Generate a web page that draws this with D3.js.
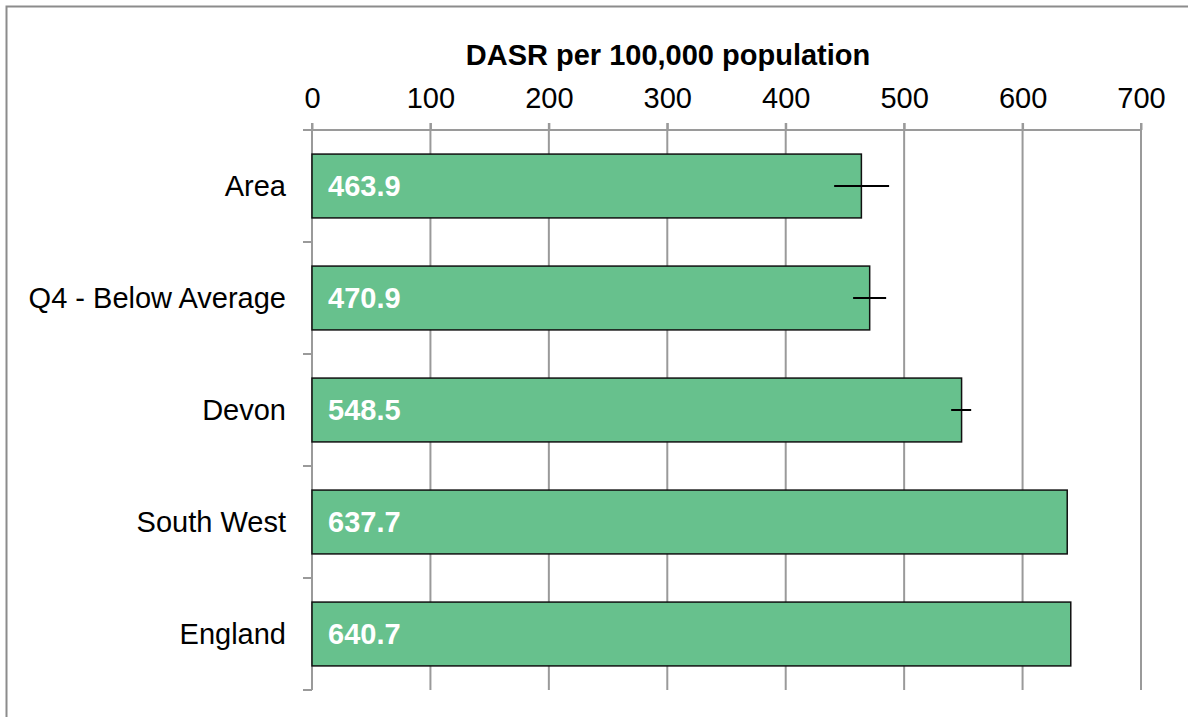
<!DOCTYPE html>
<html><head><meta charset="utf-8">
<script src="https://cdn.jsdelivr.net/npm/d3@7"></script>
<style>body{margin:0;background:#fff}svg{display:block;font-family:"Liberation Sans",Arial,sans-serif}</style>
</head><body>
<svg id="c" width="1188" height="717"></svg>
<script>
const categories = ["Area", "Q4 - Below Average", "Devon", "South West", "England"];
const values = [463.9, 470.9, 548.5, 637.7, 640.7];
const lowerCI = [440.9, 456.9, 539.7, null, null];
const upperCI = [487.3, 484.8, 556.6, null, null];
const ticks = [0, 100, 200, 300, 400, 500, 600, 700];
const axisTitle = "DASR per 100,000 population";

(function () {
const FS = 29;
const svg = d3.select("#c");
svg.append("rect").attr("x", 6.5).attr("y", 6.5).attr("width", 1300).attr("height", 900)
  .attr("fill", "none").attr("stroke", "#8c8c8c").attr("stroke-width", 2);

const plotTop = 130, plotBottom = 690;
const x = d3.scaleLinear().domain([0, 700]).range([312, 1141]);
const y = d3.scaleBand().domain(categories).range([plotTop, plotBottom]).paddingInner(0.43).paddingOuter(0.215);

// gridlines
svg.append("g").selectAll("line").data(ticks.slice(1)).join("line")
  .attr("x1", d => x(d)).attr("x2", d => x(d)).attr("y1", plotTop - 7).attr("y2", plotBottom)
  .attr("stroke", "#9a9a9a").attr("stroke-width", 2);

// top axis
const xa = svg.append("g").attr("transform", `translate(0,${plotTop})`)
  .call(d3.axisTop(x).tickValues(ticks).tickSize(7).tickPadding(15).tickFormat(d3.format("d")));
xa.select(".domain").remove();
xa.append("line").attr("x1", 303).attr("x2", 1141).attr("stroke", "#9a9a9a").attr("stroke-width", 2);
xa.selectAll(".tick line").attr("stroke", "#9a9a9a").attr("stroke-width", 2);
xa.selectAll(".tick text").attr("font-size", FS).attr("fill", "#000").attr("font-family", "Liberation Sans, Arial, sans-serif");

svg.append("text").attr("x", 668).attr("y", 65).attr("text-anchor", "middle")
  .attr("font-size", FS).attr("font-weight", "bold").text(axisTitle);

// left axis line
svg.append("line").attr("x1", 312).attr("x2", 312).attr("y1", plotTop - 7).attr("y2", plotBottom)
  .attr("stroke", "#9a9a9a").attr("stroke-width", 2);
const bounds = d3.range(categories.length + 1).map(i => plotTop + i * (plotBottom - plotTop) / categories.length);
svg.append("g").selectAll("line").data(bounds).join("line")
  .attr("x1", 303).attr("x2", 312).attr("y1", d => d).attr("y2", d => d)
  .attr("stroke", "#9a9a9a").attr("stroke-width", 2);

// bars
svg.append("g").selectAll("rect").data(categories).join("rect")
  .attr("x", x(0)).attr("y", d => y(d))
  .attr("width", (d, i) => x(values[i]) - x(0)).attr("height", y.bandwidth())
  .attr("fill", "#67c18d").attr("stroke", "#111").attr("stroke-width", 1.5);

// category labels
svg.append("g").selectAll("text").data(categories).join("text")
  .attr("x", 286).attr("y", d => y(d) + y.bandwidth() / 2).attr("dy", "0.35em")
  .attr("text-anchor", "end").attr("font-size", FS).attr("fill", "#000").text(d => d);

// value labels
svg.append("g").selectAll("text").data(categories).join("text")
  .attr("x", 328).attr("y", d => y(d) + y.bandwidth() / 2).attr("dy", "0.36em")
  .attr("font-size", FS).attr("font-weight", "bold").attr("fill", "#fff")
  .text((d, i) => values[i].toFixed(1));

// error bars
svg.append("g").selectAll("line").data(categories.filter((d, i) => lowerCI[i] != null)).join("line")
  .attr("x1", d => x(lowerCI[categories.indexOf(d)])).attr("x2", d => x(upperCI[categories.indexOf(d)]))
  .attr("y1", d => y(d) + y.bandwidth() / 2).attr("y2", d => y(d) + y.bandwidth() / 2)
  .attr("stroke", "#000").attr("stroke-width", 2);
})();
</script>
</body></html>
